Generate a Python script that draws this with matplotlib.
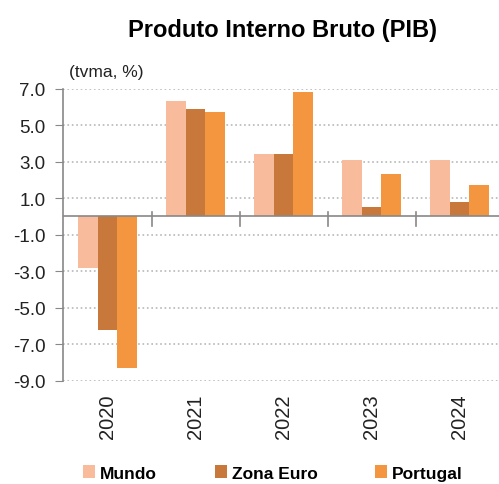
import numpy as np
import matplotlib.pyplot as plt

plt.rcParams['font.family'] = ['Liberation Sans', 'DejaVu Sans']

years = ['2020', '2021', '2022', '2023', '2024']
series = ['Mundo', 'Zona Euro', 'Portugal']
mundo = [-2.8, 6.3, 3.4, 3.1, 3.1]
zona_euro = [-6.2, 5.9, 3.4, 0.5, 0.8]
portugal = [-8.3, 5.7, 6.8, 2.3, 1.7]
colors = ['#F8BC9C', '#C8783A', '#F49640']
yticks = [7.0, 5.0, 3.0, 1.0, -1.0, -3.0, -5.0, -7.0, -9.0]

fig = plt.figure(figsize=(4.99, 4.85), dpi=100)
ax = fig.add_axes([63.5 / 499, 103.3 / 485, 440 / 499, 292 / 485])

x = np.arange(len(years))
w = 0.22
for i, (vals, c, name) in enumerate(zip([mundo, zona_euro, portugal], colors, series)):
    ax.bar(x + (i - 1) * w, vals, w, color=c, label=name, zorder=3)

ax.set_xlim(-0.5, len(years) - 0.5)
ax.set_ylim(-9, 7)
ax.set_yticks(yticks)
ax.set_yticklabels(['%.1f' % v for v in yticks], fontsize=13.5, color='#222222')
ax.yaxis.grid(True, linestyle=':', color='#b8b8b8', linewidth=1.2, zorder=0)
ax.tick_params(axis='y', length=6, color='#888888', pad=7)

# category labels at the bottom, boundary ticks crossing the zero line
ax.set_xticks(x)
ax.set_xticklabels(years, rotation=90, fontsize=14.5, color='#222222')
ax.tick_params(axis='x', length=0, pad=9)
ax.axhline(0, color='#888888', linewidth=1.2, zorder=4)
for b in x[:-1] + 0.5:
    ax.plot([b, b], [0.25, -0.5], color='#888888', linewidth=1.2, zorder=4, clip_on=False)

for s in ['top', 'right', 'bottom']:
    ax.spines[s].set_visible(False)
ax.spines['left'].set_color('#888888')
ax.spines['left'].set_linewidth(1.2)

fig.text(283 / 499, 1 - 30 / 485, 'Produto Interno Bruto (PIB)', ha='center', va='center',
         fontsize=17, fontweight='bold')
fig.text(69 / 499, 1 - 72 / 485, '(tvma, %)', ha='left', va='center', fontsize=12.5, color='#222222')

fig.legend(loc='center', bbox_to_anchor=(273 / 499, 1 - 474 / 485), ncol=3, frameon=False,
           prop={'weight': 'bold', 'size': 12.5}, handlelength=0.7, handleheight=0.7,
           handletextpad=0.3, columnspacing=3.3)

fig.savefig('out.png', dpi=100)
